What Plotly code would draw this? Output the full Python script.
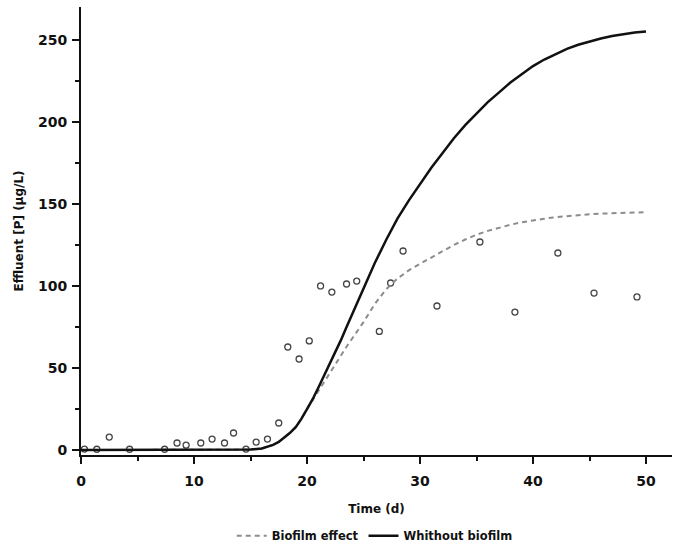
import plotly.graph_objects as go

# Observed effluent P (scatter)
obs_time = [0.3, 1.4, 2.5, 4.3, 7.4, 8.5, 9.3, 10.6, 11.6, 12.7, 13.5, 14.6, 15.5, 16.5, 17.5,
            18.3, 19.3, 20.2, 21.2, 22.2, 23.5, 24.4, 26.4, 27.4, 28.5, 31.5, 35.3, 38.4, 42.2, 45.4, 49.2]
obs_p = [0.6, 0.5, 7.9, 0.5, 0.5, 4.3, 3.0, 4.3, 6.7, 4.3, 10.4, 0.6, 4.9, 6.7, 16.5,
         62.8, 55.5, 66.5, 100.0, 96.3, 101.2, 103.0, 72.3, 101.8, 121.3, 87.8, 126.8, 84.1, 120.1, 95.7, 93.3]

# Model curve without biofilm
nob_time = [0, 10, 14, 15, 16, 16.5, 17, 17.5, 18, 18.5, 19, 19.5, 20, 20.5, 21, 21.5, 22, 22.5,
            23, 23.5, 24, 24.5, 25, 26, 27, 28, 29, 30, 31, 32, 33, 34, 35, 36, 37, 38, 39, 40,
            41, 42, 43, 44, 45, 46, 47, 48, 49, 50]
nob_p = [0, 0, 0, 0.3, 1, 2, 3.2, 5, 7.5, 10.5, 14, 19, 25, 31, 38, 45, 52, 59,
         67, 75, 83, 91, 99, 114, 128, 141, 152, 162, 172, 181, 190, 198, 205, 212, 218, 224, 229, 234,
         238, 241.5, 244.5, 247, 249, 250.8, 252.3, 253.5, 254.4, 255]

# Model curve with biofilm effect
bio_time = [0, 10, 14, 15, 16, 16.5, 17, 17.5, 18, 18.5, 19, 19.5, 20, 20.5, 21, 21.5, 22, 22.5,
            23, 23.5, 24, 24.5, 25, 26, 27, 28, 29, 30, 31, 32, 33, 34, 35, 36, 37, 38, 39, 40,
            41, 42, 43, 44, 45, 46, 47, 48, 49, 50]
bio_p = [0, 0, 0, 0.3, 1, 2, 3.2, 5, 7.5, 10.5, 14, 19, 25, 30.5, 36, 41.5, 47, 52,
         57.5, 63, 68, 73, 78, 89, 98, 104.5, 109.5, 113.5, 117.5, 121.5, 125, 128.3, 131.2, 133.6, 135.6, 137.3, 138.8, 140,
         141, 141.9, 142.6, 143.2, 143.7, 144.1, 144.4, 144.7, 144.9, 145]

x_ticks = [0, 10, 20, 30, 40, 50]
y_ticks = [0, 50, 100, 150, 200, 250]

FONT = "DejaVu Sans"

fig = go.Figure()
fig.add_trace(go.Scatter(
    x=obs_time, y=obs_p, mode="markers", showlegend=False,
    marker=dict(symbol="circle-open", size=6, color="#444444", line=dict(width=1.3)),
))
fig.add_trace(go.Scatter(
    x=bio_time, y=bio_p, mode="lines", name="Biofilm effect",
    line=dict(color="#8c8c8c", width=2, dash="5px,4px"),
))
fig.add_trace(go.Scatter(
    x=nob_time, y=nob_p, mode="lines", name="Whithout biofilm",
    line=dict(color="#111111", width=2.5),
))

axis_common = dict(
    showgrid=False, zeroline=False, showline=True, linecolor="#111111", linewidth=2,
    ticks="outside", ticklen=7, tickwidth=2, tickcolor="#111111",
    tickfont=dict(family=FONT, size=14, color="#111111", weight="bold"),
)

fig.update_xaxes(
    range=[0, 52.3], tickvals=x_ticks, ticklabelstandoff=5,
    minor=dict(dtick=5, ticks="outside", ticklen=4, tickwidth=2, tickcolor="#111111"),
    title=dict(text="Time (d)", font=dict(family=FONT, size=12, color="#111111", weight="bold"), standoff=17),
    **axis_common,
)
fig.update_yaxes(
    range=[-3, 270], tickvals=y_ticks, ticklabelstandoff=2,
    minor=dict(dtick=25, ticks="outside", ticklen=4, tickwidth=2, tickcolor="#111111"),
    title=dict(text="Effluent [P] (µg/L)", font=dict(family=FONT, size=12, color="#111111", weight="bold"), standoff=12),
    **axis_common,
)

fig.update_layout(
    width=674, height=544,
    margin=dict(l=81, r=2, t=7, b=89, autoexpand=False),
    paper_bgcolor="white", plot_bgcolor="white",
    legend=dict(orientation="h", x=0.497, xanchor="center", y=-0.18, yanchor="middle",
                font=dict(family=FONT, size=11.5, color="#111111", weight="bold"),
                bgcolor="rgba(0,0,0,0)"),
)

fig.write_html("out.html")
